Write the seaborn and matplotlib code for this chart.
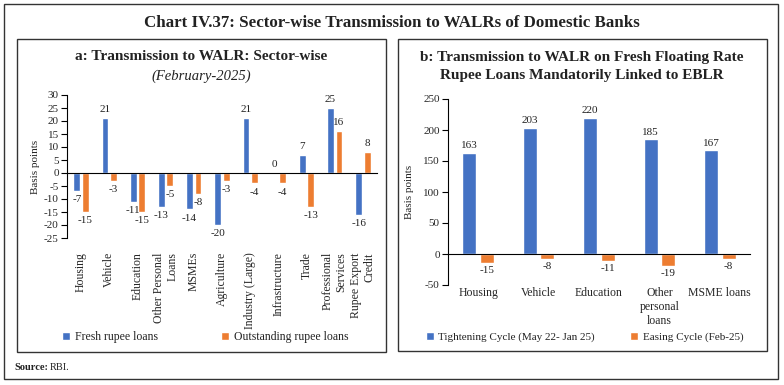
import matplotlib
matplotlib.use("Agg")
import matplotlib.pyplot as plt
import matplotlib.patches as mpatches
import seaborn as sns
import pandas as pd

# Panel a data
sectors = ["Housing", "Vehicle", "Education", "Other Personal\nLoans", "MSMEs",
           "Agriculture", "Industry (Large)", "Infrastructure", "Trade",
           "Professional\nServices", "Rupee Export\nCredit"]
fresh = [-7, 21, -11, -13, -14, -20, 21, 0, 7, 25, -16]
outstanding = [-15, -3, -15, -5, -8, -3, -4, -4, -13, 16, 8]
series_a = ["Fresh rupee loans", "Outstanding rupee loans"]

# Panel b data
loan_types = ["Housing", "Vehicle", "Education", "Other\npersonal\nloans", "MSME loans"]
tightening = [163, 203, 220, 185, 167]
easing = [-15, -8, -11, -19, -8]
series_b = ["Tightening Cycle (May 22- Jan 25)", "Easing Cycle (Feb-25)"]

yticks_a = list(range(-25, 31, 5))
yticks_b = list(range(-50, 251, 50))

BLUE = "#4472C4"
ORANGE = "#ED7D31"

sns.set_style("white")
plt.rcParams["font.family"] = ["Liberation Serif", "DejaVu Serif"]
plt.rcParams["text.color"] = "#222222"
plt.rcParams["axes.unicode_minus"] = False

df_a = pd.DataFrame({
    "sector": sectors * 2,
    "value": fresh + outstanding,
    "series": [series_a[0]] * len(sectors) + [series_a[1]] * len(sectors),
})
df_b = pd.DataFrame({
    "loan": loan_types * 2,
    "value": tightening + easing,
    "series": [series_b[0]] * len(loan_types) + [series_b[1]] * len(loan_types),
})

fig = plt.figure(figsize=(7.84, 3.85), dpi=100)


def fx(px):
    return px / 784


def fy(py):
    return 1 - py / 385


# frames
fig.patches.append(mpatches.Rectangle((fx(4), fy(379)), fx(774), 375 / 385, transform=fig.transFigure,
                                      fill=False, edgecolor="#333333", linewidth=1.0))
fig.patches.append(mpatches.Rectangle((fx(17), fy(352)), fx(369), 313 / 385, transform=fig.transFigure,
                                      fill=False, edgecolor="#333333", linewidth=1.0))
fig.patches.append(mpatches.Rectangle((fx(398), fy(351)), fx(369), 312 / 385, transform=fig.transFigure,
                                      fill=False, edgecolor="#333333", linewidth=1.0))

fig.text(0.5, fy(23), "Chart IV.37: Sector-wise Transmission to WALRs of Domestic Banks",
         ha="center", va="center", fontsize=12.2, fontweight="bold")

# ---------- panel a ----------
ax1 = fig.add_axes([fx(67), fy(238), fx(310), (238 - 95) / 385])
sns.barplot(data=df_a, x="sector", y="value", hue="series", palette=[BLUE, ORANGE],
            width=0.6, gap=0.2, ax=ax1, saturation=1)
ax1.legend_.remove()
ax1.set_ylim(-25, 30)
ax1.set_xlim(-0.5, len(sectors) - 0.5)
ax1.set_yticks(yticks_a)
ax1.set_xlabel("")
ax1.set_ylabel("")
for c in ax1.containers:
    ax1.bar_label(c, fmt="%d", padding=3, fontsize=8)
ax1.spines[["top", "right"]].set_visible(False)
ax1.spines["bottom"].set_position(("data", 0))
ax1.spines["left"].set_color("black")
ax1.spines["bottom"].set_color("black")
ax1.set_xticks([i - 0.5 for i in range(len(sectors) + 1)], minor=True)
ax1.tick_params(axis="x", which="minor", length=4, direction="out", color="black")
ax1.tick_params(axis="x", which="major", length=0, pad=57, labelsize=8.5, labelrotation=90)
for lab in ax1.get_xticklabels():
    lab.set_va("top")
    lab.set_multialignment("right")
ax1.tick_params(axis="y", length=4, direction="out", labelsize=8, color="black", pad=2)
ax1.yaxis.set_ticks_position("left")

fig.text(fx(201), fy(57), "a: Transmission to WALR: Sector-wise", ha="center", va="center",
         fontsize=11, fontweight="bold")
fig.text(fx(201), fy(76), "(February-2025)", ha="center", va="center", fontsize=10.5, style="italic")
fig.text(fx(35), fy(167), "Basis points", rotation=90, ha="center", va="center", fontsize=8)

h, l = ax1.get_legend_handles_labels()
fig.legend(h, l, loc="center left", bbox_to_anchor=(fx(62), fy(337)), ncol=2, frameon=False,
           fontsize=8.5, handlelength=0.7, handleheight=0.7, handletextpad=0.4, columnspacing=5.3,
           borderaxespad=0, borderpad=0)

# ---------- panel b ----------
ax2 = fig.add_axes([fx(448), fy(285), fx(302), (285 - 99) / 385])
sns.barplot(data=df_b, x="loan", y="value", hue="series", palette=[BLUE, ORANGE],
            width=0.58, gap=0.2, ax=ax2, saturation=1)
ax2.legend_.remove()
ax2.set_ylim(-50, 250)
ax2.set_xlim(-0.5, len(loan_types) - 0.5)
ax2.set_yticks(yticks_b)
ax2.set_xlabel("")
ax2.set_ylabel("")
for c in ax2.containers:
    ax2.bar_label(c, fmt="%d", padding=2, fontsize=8)
ax2.spines[["top", "right"]].set_visible(False)
ax2.spines["bottom"].set_position(("data", 0))
ax2.spines["left"].set_color("black")
ax2.spines["bottom"].set_color("black")
ax2.tick_params(axis="x", length=0, pad=24, labelsize=8.5)
for lab in ax2.get_xticklabels():
    lab.set_va("top")
ax2.tick_params(axis="y", length=4, direction="out", labelsize=8, color="black", pad=2)
ax2.yaxis.set_ticks_position("left")

fig.text(fx(582), fy(57), "b: Transmission to WALR on Fresh Floating Rate", ha="center", va="center",
         fontsize=11, fontweight="bold")
fig.text(fx(582), fy(75), "Rupee Loans Mandatorily Linked to EBLR", ha="center", va="center",
         fontsize=11, fontweight="bold")
fig.text(fx(410), fy(192), "Basis points", rotation=90, ha="center", va="center", fontsize=8)

h, l = ax2.get_legend_handles_labels()
fig.legend(h, l, loc="center left", bbox_to_anchor=(fx(426), fy(337)), ncol=2, frameon=False,
           fontsize=8, handlelength=0.7, handleheight=0.7, handletextpad=0.4, columnspacing=3.2,
           borderaxespad=0, borderpad=0)

fig.text(fx(14), fy(368), "Source:", ha="left", va="center", fontsize=7.5, fontweight="bold")
fig.text(fx(50), fy(368), "RBI.", ha="left", va="center", fontsize=7.5)

fig.savefig("out.png", dpi=100)
